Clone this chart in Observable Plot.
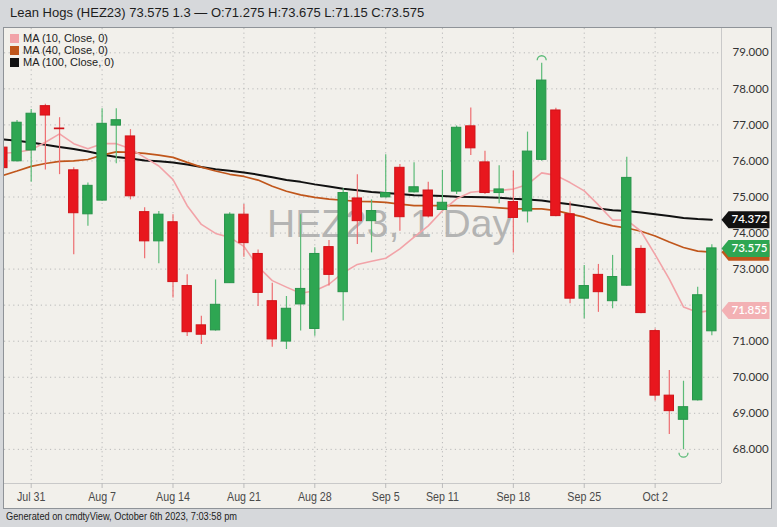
<!DOCTYPE html>
<html><head><meta charset="utf-8">
<script src="https://cdn.jsdelivr.net/npm/d3@7"></script>
<script src="https://cdn.jsdelivr.net/npm/@observablehq/plot@0.6"></script>
<style>
html,body{margin:0;padding:0;}
body{width:777px;height:527px;background:#d6d8db;position:relative;overflow:hidden;font-family:"Liberation Sans",Arial,sans-serif;}
#hdr{position:absolute;left:10px;top:5px;font-size:13px;color:#1d1d1d;white-space:nowrap;}
#panel{position:absolute;left:3px;top:27px;width:767px;height:480px;border:1px solid #8f9398;background:#f2f0eb;}
#panel svg{display:block;}
#legend{position:absolute;left:10px;top:32px;font-size:11px;color:#222;line-height:12px;white-space:nowrap;}
#legend .sw{display:inline-block;width:9px;height:9px;margin-right:4px;vertical-align:-1px;}
#cap{position:absolute;left:6px;top:510px;font-size:11px;color:#222;white-space:nowrap;transform:scaleX(0.84);transform-origin:0 0;}
</style></head>
<body>
<div id="hdr"></div>
<div id="panel"></div>
<div id="legend"></div>
<div id="cap"></div>
<script>
// ---- data ----
const title = "Lean Hogs (HEZ23) 73.575 1.3 — O:71.275 H:73.675 L:71.15 C:73.575";
const watermark = "HEZ23, 1 Day";
const caption = "Generated on cmdtyView, October 6th 2023, 7:03:58 pm";
const seriesNames = ["MA (10, Close, 0)", "MA (40, Close, 0)", "MA (100, Close, 0)"];

const dates = ["2023-07-27","2023-07-28","2023-07-31","2023-08-01","2023-08-02","2023-08-03","2023-08-04",
"2023-08-07","2023-08-08","2023-08-09","2023-08-10","2023-08-11","2023-08-14","2023-08-15","2023-08-16",
"2023-08-17","2023-08-18","2023-08-21","2023-08-22","2023-08-23","2023-08-24","2023-08-25","2023-08-28",
"2023-08-29","2023-08-30","2023-08-31","2023-09-01","2023-09-05","2023-09-06","2023-09-07","2023-09-08",
"2023-09-11","2023-09-12","2023-09-13","2023-09-14","2023-09-15","2023-09-18","2023-09-19","2023-09-20",
"2023-09-21","2023-09-22","2023-09-25","2023-09-26","2023-09-27","2023-09-28","2023-09-29","2023-10-02",
"2023-10-03","2023-10-04","2023-10-05","2023-10-06"];

const open = [76.37,75.99,76.29,77.52,76.90,75.74,74.52,74.90,76.98,76.68,
74.58,73.77,74.30,72.53,71.44,71.30,72.61,74.51,73.42,72.11,
70.99,72.02,71.34,73.61,72.36,74.96,74.33,74.99,75.81,75.13,
75.18,74.64,75.15,76.96,75.96,75.11,74.86,74.60,76.03,77.40,
74.52,72.18,72.84,72.11,72.54,73.56,71.28,69.49,68.82,69.36,71.275];

const high = [76.50,77.12,77.43,77.57,77.20,75.81,75.39,77.45,77.45,76.87,
74.70,74.60,74.51,72.84,71.69,72.70,74.56,74.79,73.53,72.61,
72.24,74.51,73.59,73.79,75.23,75.62,74.92,76.17,75.90,75.95,
75.41,75.74,76.97,77.47,76.27,75.87,75.72,76.80,78.71,77.46,
74.86,73.10,73.13,73.38,76.10,73.65,71.34,70.19,69.89,72.50,73.675];

const low = [75.60,75.97,75.41,75.75,75.62,73.40,74.19,74.88,75.92,74.92,
73.29,73.15,72.20,71.13,70.91,71.28,72.60,73.33,71.96,70.83,
70.77,71.28,71.14,72.53,71.56,73.68,73.45,74.97,74.05,75.11,
74.42,74.62,75.07,76.15,75.07,74.81,73.45,74.28,75.99,74.45,
72.04,71.62,71.80,71.90,72.52,71.76,69.34,68.41,67.99,69.34,71.15];

const close = [75.80,77.06,77.31,77.26,76.88,74.55,75.31,77.03,77.13,75.02,
73.77,74.51,72.64,71.25,71.18,72.01,74.51,73.72,72.34,71.05,
71.90,72.45,73.42,72.84,75.11,74.33,74.61,75.11,74.44,75.27,
74.46,74.84,76.92,76.35,75.11,75.21,74.42,76.26,78.23,74.47,
72.18,72.53,72.36,72.78,75.53,71.78,69.49,69.06,69.17,72.275,73.575];

const ma10 = [76.21,76.24,76.31,76.52,76.75,76.48,76.34,76.48,76.48,76.34,
76.10,75.86,75.48,74.76,74.24,73.99,73.88,73.63,73.07,72.68,
72.50,72.33,72.40,72.58,72.90,73.13,73.22,73.30,73.56,73.89,
74.20,74.62,74.95,75.13,75.17,75.18,75.22,75.35,75.67,75.60,
75.40,75.17,74.78,74.36,74.36,74.05,73.40,72.72,71.95,71.80,71.855];

const ma40 = [75.60,75.72,75.85,75.93,75.99,76.00,76.04,76.16,76.25,76.24,
76.21,76.16,76.10,75.96,75.83,75.72,75.63,75.57,75.47,75.30,
75.16,75.06,74.99,74.94,74.91,74.88,74.87,74.85,74.80,74.76,
74.76,74.76,74.76,74.75,74.73,74.70,74.67,74.67,74.67,74.62,
74.53,74.44,74.30,74.20,74.14,74.05,73.92,73.75,73.60,73.50,73.47];

const ma100 = [76.60,76.56,76.51,76.45,76.39,76.33,76.26,76.18,76.11,76.07,
76.01,75.99,75.96,75.90,75.83,75.77,75.73,75.68,75.62,75.55,
75.47,75.42,75.35,75.29,75.23,75.19,75.14,75.11,75.08,75.05,
75.04,75.03,75.01,75.00,74.99,74.98,74.95,74.93,74.90,74.85,
74.80,74.74,74.68,74.63,74.61,74.57,74.52,74.47,74.42,74.39,74.372];

const tickDates = ["2023-07-31","2023-08-07","2023-08-14","2023-08-21","2023-08-28","2023-09-05","2023-09-11","2023-09-18","2023-09-25","2023-10-02"];
const tickLabels = ["Jul 31","Aug 7","Aug 14","Aug 21","Aug 28","Sep 5","Sep 11","Sep 18","Sep 25","Oct 2"];
const yTicks = [68,69,70,71,72,73,74,75,76,77,78,79];

// ---- styles ----
const GREEN = "#2ea652", RED = "#e8171e";
const GREEN_W = "#5cbb78", RED_W = "#ee6e71";
const C10 = "#f2a3a8", C40 = "#c0561b", C100 = "#111111";

document.getElementById("hdr").textContent = title;
document.getElementById("cap").textContent = caption;
const lg = document.getElementById("legend");
[[C10, seriesNames[0]], [C40, seriesNames[1]], [C100, seriesNames[2]]].forEach(([c, t]) => {
  const row = document.createElement("div");
  const sw = document.createElement("span"); sw.className = "sw"; sw.style.background = c;
  row.appendChild(sw); row.appendChild(document.createTextNode(t));
  lg.appendChild(row);
});

const idx = d3.range(dates.length);
const bars = idx.map(i => ({i, o: open[i], h: high[i], l: low[i], c: close[i], up: close[i] >= open[i]}));
const tickIdx = tickDates.map(d => dates.indexOf(d));
const tickName = new Map(tickIdx.map((k, j) => [k, tickLabels[j]]));
const HW = 0.33;
const xDom = [0.117, 50.68], yDom = [67.053, 79.674];

const tagSym = {draw(ctx) { ctx.moveTo(0, 0); ctx.lineTo(7, -8.5); ctx.lineTo(48, -8.5); ctx.lineTo(48, 8.5); ctx.lineTo(7, 8.5); ctx.closePath(); }};
const arcUp = {draw(ctx) { ctx.moveTo(-4.5, 0); ctx.arc(0, 0, 4.5, Math.PI, 2 * Math.PI); }};
const arcDown = {draw(ctx) { ctx.moveTo(4.5, 0); ctx.arc(0, 0, 4.5, 0, Math.PI); }};

const hiI = d3.maxIndex(high), loI = d3.minIndex(low);
const n = dates.length - 1;
const tags = [
  {v: ma40[n], bg: C40, label: false},
  {v: ma100[n], bg: C100, label: true},
  {v: close[n], bg: GREEN, label: true},
  {v: ma10[n], bg: "#f3b1b4", label: true}
];
// axis labels that sit fully beneath a price tag are not visible in the reference
const yLabelTicks = yTicks.filter(t => !tags.some(g => g.label && Math.abs(g.v - t) < 0.25));
const tagMarks = [];
tags.forEach(t => {
  tagMarks.push(Plot.dot([t], {y: "v", frameAnchor: "right", symbol: tagSym, fill: t.bg, stroke: "none"}));
  if (t.label) tagMarks.push(Plot.text([t], {y: "v", frameAnchor: "right", textAnchor: "middle", dx: 28, text: d => d3.format(".3f")(d.v), fill: "white", fontSize: 11.5, fontFamily: "Lato, sans-serif", fontWeight: 600}));
});

const chart = Plot.plot({
  width: 767, height: 480,
  marginLeft: 0, marginRight: 50, marginTop: 0, marginBottom: 25,
  x: {type: "linear", domain: xDom, label: null},
  y: {domain: yDom, label: null},
  style: {background: "transparent", fontFamily: "Lato, sans-serif", fontSize: "11.5px", color: "#333", overflow: "visible"},
  marks: [
    Plot.ruleY(yTicks, {stroke: "#b9b9b9", strokeDasharray: "1.2,3.4", strokeWidth: 1}),
    Plot.ruleX(tickIdx, {stroke: "#b9b9b9", strokeDasharray: "1.2,3.4", strokeWidth: 1}),
    Plot.text([watermark], {text: d => d, frameAnchor: "middle", dx: 26.5, dy: -31.5, fontSize: 39, fontFamily: "Liberation Sans, Arial, sans-serif", fill: "#a9a9a9", fillOpacity: 0.85}),
    Plot.line(idx, {x: i => i, y: i => ma100[i], stroke: C100, strokeWidth: 2, clip: true}),
    Plot.line(idx, {x: i => i, y: i => ma40[i], stroke: C40, strokeWidth: 1.7, clip: true}),
    Plot.line(idx, {x: i => i, y: i => ma10[i], stroke: C10, strokeWidth: 1.6, clip: true}),
    Plot.ruleX(bars, {x: "i", y1: "l", y2: "h", stroke: d => d.up ? GREEN_W : RED_W, strokeWidth: 1.2, clip: true}),
    Plot.rect(bars, {x1: d => d.i - HW, x2: d => d.i + HW, y1: "o", y2: "c", fill: d => d.up ? GREEN : RED, stroke: d => d.up ? "#27944a" : "#d01218", strokeWidth: 1, clip: true}),
    Plot.dot([hiI], {x: i => i, y: i => high[i], dy: -3, symbol: arcUp, stroke: GREEN_W, strokeWidth: 1.3, fill: "none"}),
    Plot.dot([loI], {x: i => i, y: i => low[i], dy: 3, symbol: arcDown, stroke: GREEN_W, strokeWidth: 1.3, fill: "none"}),
    Plot.ruleY([yDom[0]], {stroke: "#c9c9c9", strokeWidth: 1}),
    Plot.ruleX([xDom[1]], {stroke: "#c9c9c9", strokeWidth: 1}),
    Plot.axisY({anchor: "right", ticks: yLabelTicks, tickFormat: d3.format(".3f"), tickSize: 0, tickPadding: 11, fontSize: 11.5, label: null}),
    Plot.axisX({anchor: "bottom", ticks: tickIdx, tickFormat: i => tickName.get(i), tickSize: 5, tickPadding: 3, stroke: "#bbbbbb", fontSize: 13, fontFamily: "Liberation Sans, Arial, sans-serif", fill: "#4a4a4a", label: null}),
    ...tagMarks
  ]
});
document.getElementById("panel").appendChild(chart);
// condense the date labels horizontally, like the reference's narrow face
d3.select(chart).selectAll("g[aria-label='x-axis tick label'] text").each(function() {
  const w = this.getComputedTextLength();
  this.setAttribute("textLength", (w * 0.82).toFixed(1));
  this.setAttribute("lengthAdjust", "spacingAndGlyphs");
});
</script>
</body></html>
